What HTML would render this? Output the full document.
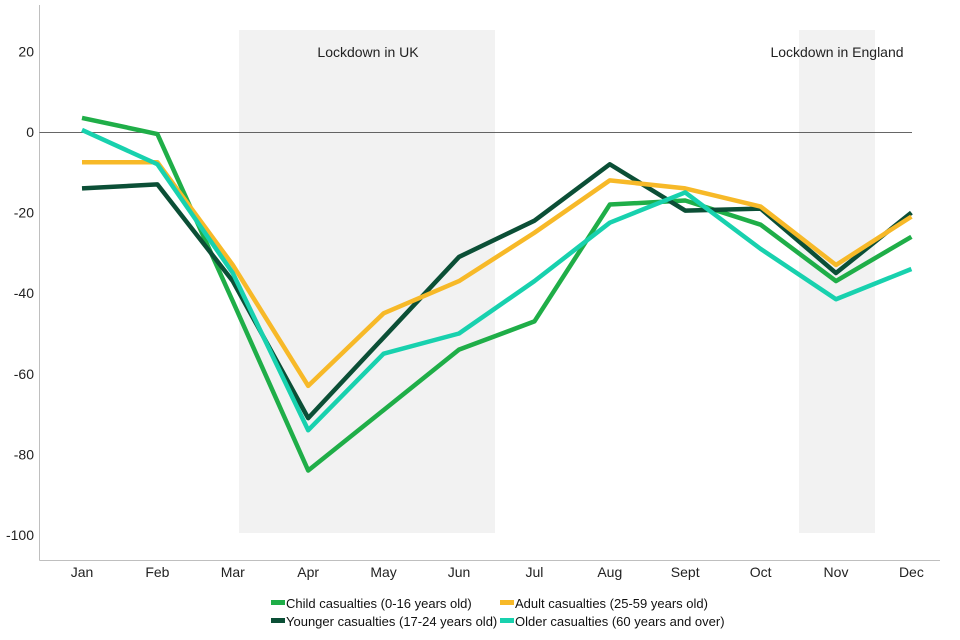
<!DOCTYPE html>
<html><head><meta charset="utf-8"><style>
body{margin:0;background:#fff;}
svg{display:block;font-family:"Liberation Sans",Arial,sans-serif;}
</style></head><body>
<svg id="chart" width="960" height="640">
<rect x="239" y="30" width="256" height="503" fill="#f2f2f2"/>
<rect x="799" y="30" width="76" height="503" fill="#f2f2f2"/>
<text x="368" y="57" font-size="14" text-anchor="middle" fill="#222">Lockdown in UK</text>
<text x="837" y="57" font-size="14" text-anchor="middle" fill="#222">Lockdown in England</text>
<line x1="39.5" y1="5" x2="39.5" y2="560.5" stroke="#bfbfbf"/>
<line x1="39.5" y1="560.5" x2="940" y2="560.5" stroke="#bfbfbf"/>
<g id="ticks"></g>
<g id="lines"></g>
<g id="legend"></g>
</svg>
<script>
const months=["Jan","Feb","Mar","Apr","May","Jun","Jul","Aug","Sept","Oct","Nov","Dec"];
const yTicks=[20,0,-20,-40,-60,-80,-100];
const child=[3.5,-0.5,-42,-84,-69,-54,-47,-18,-17,-23,-37,-26];
const adult=[-7.5,-7.5,-33,-63,-45,-37,-25,-12,-14,-18.5,-33,-21];
const younger=[-14,-13,-37,-71,-51,-31,-22,-8,-19.5,-19,-35,-20];
const older=[0.5,-8,-35,-74,-55,-50,-37,-22.5,-15,-29,-41.5,-34];
const NS="http://www.w3.org/2000/svg";
function x(i){return 82+i*75.4;}
function y(v){return 132-v*4.03;}
function mk(t,a,p){const e=document.createElementNS(NS,t);for(const k in a)e.setAttribute(k,a[k]);p.appendChild(e);return e;}
const tg=document.getElementById('ticks');
yTicks.forEach(v=>{const t=mk('text',{x:34,y:y(v)+5,'font-size':14,'text-anchor':'end',fill:'#222'},tg);t.textContent=v;

});
months.forEach((m,i)=>{const t=mk('text',{x:x(i),y:577,'font-size':14,'text-anchor':'middle',fill:'#222'},tg);t.textContent=m;

});
const zl=mk('line',{x1:39.5,x2:912,y1:y(0)+0.5,y2:y(0)+0.5,stroke:'#333','stroke-width':0.8},tg);


const series=[["child-line",child,"#1fae48"],["younger-line",younger,"#0b4f36"],["adult-line",adult,"#f7b928"],["older-line",older,"#18d1ae"]];
const lg=document.getElementById('lines');
series.forEach(s=>{const p=mk('polyline',{points:s[1].map((v,i)=>x(i)+','+y(v)).join(' '),fill:'none',stroke:s[2],'stroke-width':4.5,'stroke-linejoin':'round'},lg);

});
const leg=[["Child casualties (0-16 years old)","#1fae48",271,604],["Adult casualties (25-59 years old)","#f7b928",500,604],["Younger casualties (17-24 years old)","#0b4f36",271,622],["Older casualties (60 years and over)","#18d1ae",500,622]];
const gg=document.getElementById('legend');
leg.forEach(l=>{const g=mk('g',{},gg);


mk('rect',{x:l[2],y:l[3]-4,width:14,height:5,fill:l[1]},g);
const t=mk('text',{x:l[2]+15,y:l[3]+4,'font-size':13,fill:'#111'},g);t.textContent=l[0];});
</script>
</body></html>
